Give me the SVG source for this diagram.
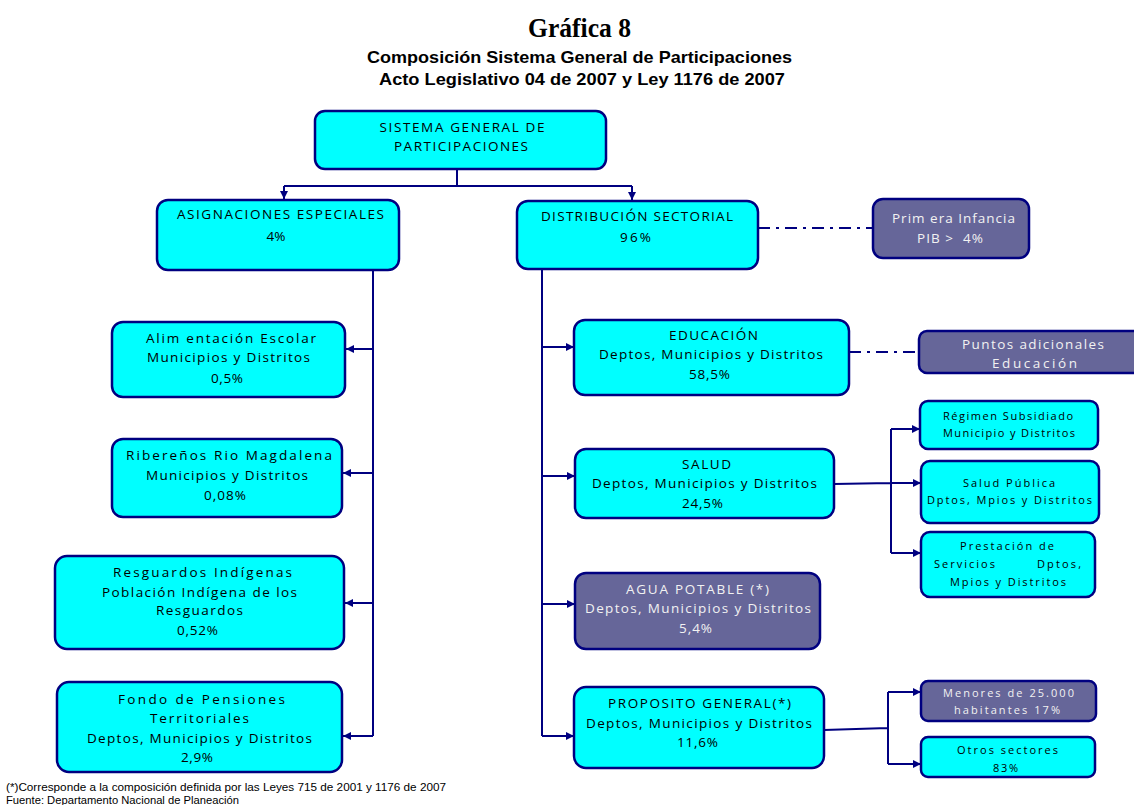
<svg xmlns="http://www.w3.org/2000/svg" width="1134" height="805" viewBox="0 0 1134 805">
<style>
.box{fill:#00ffff;stroke:#000080;stroke-width:2.5}
.pbox{fill:#666699;stroke:#000080;stroke-width:2.5}
.t{font-family:"Open Sans","DejaVu Sans",sans-serif;font-size:13.5px;fill:#000;text-anchor:middle}
.s{font-size:11px}
.w{fill:#f2f2f2}
.c{fill:none;stroke:#000080;stroke-width:2}
.a{fill:none;stroke:#000080;stroke-width:2;marker-end:url(#ah)}
.dd{fill:none;stroke:#000080;stroke-width:2.2;stroke-dasharray:12 6 3 6}
.ti{font-family:"Liberation Serif",serif;font-weight:bold;font-size:27px;text-anchor:middle;fill:#000}
.st{font-family:"Liberation Sans",Arial,sans-serif;font-weight:bold;font-size:16.5px;text-anchor:middle;fill:#000}
.fn{font-family:"Liberation Sans",Arial,sans-serif;font-size:11px;fill:#000}
</style>
<defs>
<marker id="ah" viewBox="0 0 10 10" refX="10" refY="5" markerWidth="8" markerHeight="8" orient="auto" markerUnits="userSpaceOnUse"><path d="M0,0 L10,5 L0,10 z" fill="#000080"/></marker>
</defs>
<rect width="1134" height="805" fill="#fff"/>
<g id="title">
<text class="ti" x="579.5" y="37" textLength="103" lengthAdjust="spacingAndGlyphs">Gráfica 8</text>
<text class="st" x="579.5" y="63" textLength="425" lengthAdjust="spacingAndGlyphs">Composición Sistema General de Participaciones</text>
<text class="st" x="582" y="85" textLength="406" lengthAdjust="spacingAndGlyphs">Acto Legislativo 04 de 2007 y Ley 1176 de 2007</text>
</g>
<g id="connectors">
<path class="c" d="M457,169 V186 M284,186 H632"/>
<path class="a" d="M284,186 V199"/>
<path class="a" d="M632,186 V200"/>
<path class="c" d="M373,270 V736"/>
<path class="a" d="M373,349 H346"/>
<path class="a" d="M373,473 H343"/>
<path class="a" d="M373,603 H345"/>
<path class="a" d="M373,736 H343"/>
<path class="c" d="M542,269 V736"/>
<path class="a" d="M542,347 H574"/>
<path class="a" d="M542,476 H575"/>
<path class="a" d="M542,604 H575"/>
<path class="a" d="M542,736 H574"/>
<path class="dd" d="M758,228 H873"/>
<path class="dd" d="M849,352 H919"/>
<path class="c" d="M834,484 L891,483 M891,429 V553"/>
<path class="a" d="M891,429 H920"/>
<path class="a" d="M891,483 H921"/>
<path class="a" d="M891,553 H921"/>
<path class="c" d="M824,730 L888,728 M888,692 V764"/>
<path class="a" d="M888,692 H921"/>
<path class="a" d="M888,764 H921"/>
</g>
<g id="sgp">
<rect class="box" x="315" y="111" width="291" height="58" rx="10"/>
<text class="t" x="462" y="132" textLength="165" lengthAdjust="spacing">SISTEMA GENERAL DE</text>
<text class="t" x="461" y="151" textLength="134" lengthAdjust="spacing">PARTICIPACIONES</text>
</g>
<g id="asignaciones">
<rect class="box" x="157" y="200" width="242" height="70" rx="11"/>
<text class="t" x="280.5" y="219" textLength="207" lengthAdjust="spacing">ASIGNACIONES ESPECIALES</text>
<text class="t" x="276" y="241">4%</text>
</g>
<g id="distribucion">
<rect class="box" x="517" y="201" width="241" height="68" rx="11"/>
<text class="t" x="637" y="221" textLength="192" lengthAdjust="spacing">DISTRIBUCIÓN SECTORIAL</text>
<text class="t" x="635.5" y="242" textLength="31" lengthAdjust="spacing">96%</text>
</g>
<g id="primera-infancia">
<rect class="pbox" x="873" y="199" width="156" height="59" rx="10"/>
<text class="t w" x="953.5" y="223" textLength="123" lengthAdjust="spacing">Prim era Infancia</text>
<text class="t w" x="950" y="243" textLength="66" lengthAdjust="spacing" style="white-space:pre">PIB &gt;  4%</text>
</g>
<g id="alimentacion">
<rect class="box" x="112" y="322" width="233" height="75" rx="11"/>
<text class="t" x="231" y="343" textLength="170" lengthAdjust="spacing">Alim entación Escolar</text>
<text class="t" x="228.5" y="362" textLength="163" lengthAdjust="spacing">Municipios y Distritos</text>
<text class="t" x="227" y="383" textLength="32" lengthAdjust="spacing">0,5%</text>
</g>
<g id="riberenos">
<rect class="box" x="112" y="439" width="230" height="78" rx="11"/>
<text class="t" x="229" y="460" textLength="206" lengthAdjust="spacing">Ribereños Rio Magdalena</text>
<text class="t" x="227" y="480" textLength="162" lengthAdjust="spacing">Municipios y Distritos</text>
<text class="t" x="225" y="500" textLength="42" lengthAdjust="spacing">0,08%</text>
</g>
<g id="resguardos">
<rect class="box" x="55" y="556" width="289" height="93" rx="12"/>
<text class="t" x="202.5" y="577" textLength="179" lengthAdjust="spacing">Resguardos Indígenas</text>
<text class="t" x="199.5" y="597" textLength="195" lengthAdjust="spacing">Población Indígena de los</text>
<text class="t" x="199.5" y="615" textLength="87" lengthAdjust="spacing">Resguardos</text>
<text class="t" x="197.5" y="635" textLength="41" lengthAdjust="spacing">0,52%</text>
</g>
<g id="fondo-pensiones">
<rect class="box" x="57" y="682" width="285" height="90" rx="12"/>
<text class="t" x="201.5" y="704" textLength="167" lengthAdjust="spacing">Fondo de Pensiones</text>
<text class="t" x="199.5" y="723" textLength="99" lengthAdjust="spacing">Territoriales</text>
<text class="t" x="199.5" y="743" textLength="225" lengthAdjust="spacing">Deptos, Municipios y Distritos</text>
<text class="t" x="197" y="762" textLength="32" lengthAdjust="spacing">2,9%</text>
</g>
<g id="educacion">
<rect class="box" x="574" y="320" width="275" height="75" rx="11"/>
<text class="t" x="713.5" y="340" textLength="89" lengthAdjust="spacing">EDUCACIÓN</text>
<text class="t" x="711" y="359" textLength="224" lengthAdjust="spacing">Deptos, Municipios y Distritos</text>
<text class="t" x="709.5" y="379" textLength="41" lengthAdjust="spacing">58,5%</text>
</g>
<g id="puntos-adicionales">
<rect class="pbox" x="919" y="331" width="230" height="42" rx="8"/>
<text class="t w" x="1033" y="349" textLength="142" lengthAdjust="spacing">Puntos adicionales</text>
<text class="t w" x="1034.5" y="368" textLength="85" lengthAdjust="spacing">Educación</text>
</g>
<g id="salud">
<rect class="box" x="575" y="449" width="259" height="69" rx="11"/>
<text class="t" x="706.5" y="469" textLength="49" lengthAdjust="spacing">SALUD</text>
<text class="t" x="704.5" y="488" textLength="225" lengthAdjust="spacing">Deptos, Municipios y Distritos</text>
<text class="t" x="702.5" y="508" textLength="41" lengthAdjust="spacing">24,5%</text>
</g>
<g id="regimen-subsidiado">
<rect class="box" x="920" y="401" width="178" height="48" rx="8"/>
<text class="t s" x="1008" y="420" textLength="130" lengthAdjust="spacing">Régimen Subsidiado</text>
<text class="t s" x="1009" y="437" textLength="132" lengthAdjust="spacing">Municipio y Distritos</text>
</g>
<g id="salud-publica">
<rect class="box" x="921" y="461" width="178" height="62" rx="9"/>
<text class="t s" x="1009" y="487" textLength="92" lengthAdjust="spacing">Salud Pública</text>
<text class="t s" x="1009.5" y="504" textLength="165" lengthAdjust="spacing">Dptos, Mpios y Distritos</text>
</g>
<g id="prestacion-servicios">
<rect class="box" x="921" y="532" width="174" height="65" rx="9"/>
<text class="t s" x="1007" y="550" textLength="94" lengthAdjust="spacing">Prestación de</text>
<text class="t s" x="964.5" y="568" textLength="61" lengthAdjust="spacing">Servicios</text>
<text class="t s" x="1059" y="568" textLength="44" lengthAdjust="spacing">Dptos,</text>
<text class="t s" x="1008" y="586" textLength="116" lengthAdjust="spacing">Mpios y Distritos</text>
</g>
<g id="agua-potable">
<rect class="pbox" x="575" y="573" width="245" height="76" rx="11"/>
<text class="t w" x="697.5" y="594" textLength="143" lengthAdjust="spacing">AGUA POTABLE (*)</text>
<text class="t w" x="698" y="613" textLength="226" lengthAdjust="spacing">Deptos, Municipios y Distritos</text>
<text class="t w" x="695.5" y="633" textLength="33" lengthAdjust="spacing">5,4%</text>
</g>
<g id="proposito-general">
<rect class="box" x="574" y="687" width="250" height="81" rx="12"/>
<text class="t" x="699.5" y="708" textLength="183" lengthAdjust="spacing">PROPOSITO GENERAL(*)</text>
<text class="t" x="699" y="728" textLength="226" lengthAdjust="spacing">Deptos, Municipios y Distritos</text>
<text class="t" x="697.5" y="747" textLength="41" lengthAdjust="spacing">11,6%</text>
</g>
<g id="menores">
<rect class="pbox" x="921" y="681" width="175" height="40" rx="7"/>
<text class="t s w" x="1008.5" y="697" textLength="131" lengthAdjust="spacing">Menores de 25.000</text>
<text class="t s w" x="1007" y="714" textLength="106" lengthAdjust="spacing">habitantes 17%</text>
</g>
<g id="otros-sectores">
<rect class="box" x="921" y="737" width="174" height="40" rx="7"/>
<text class="t s" x="1007.5" y="754" textLength="101" lengthAdjust="spacing">Otros sectores</text>
<text class="t s" x="1005.5" y="772" textLength="25" lengthAdjust="spacing">83%</text>
</g>
<g id="footnotes">
<text class="fn" x="6" y="791" textLength="440" lengthAdjust="spacingAndGlyphs">(*)Corresponde a la composición definida por las Leyes 715 de 2001 y 1176 de 2007</text>
<text class="fn" x="6" y="804" textLength="233" lengthAdjust="spacingAndGlyphs">Fuente: Departamento Nacional de Planeación</text>
</g>
</svg>
